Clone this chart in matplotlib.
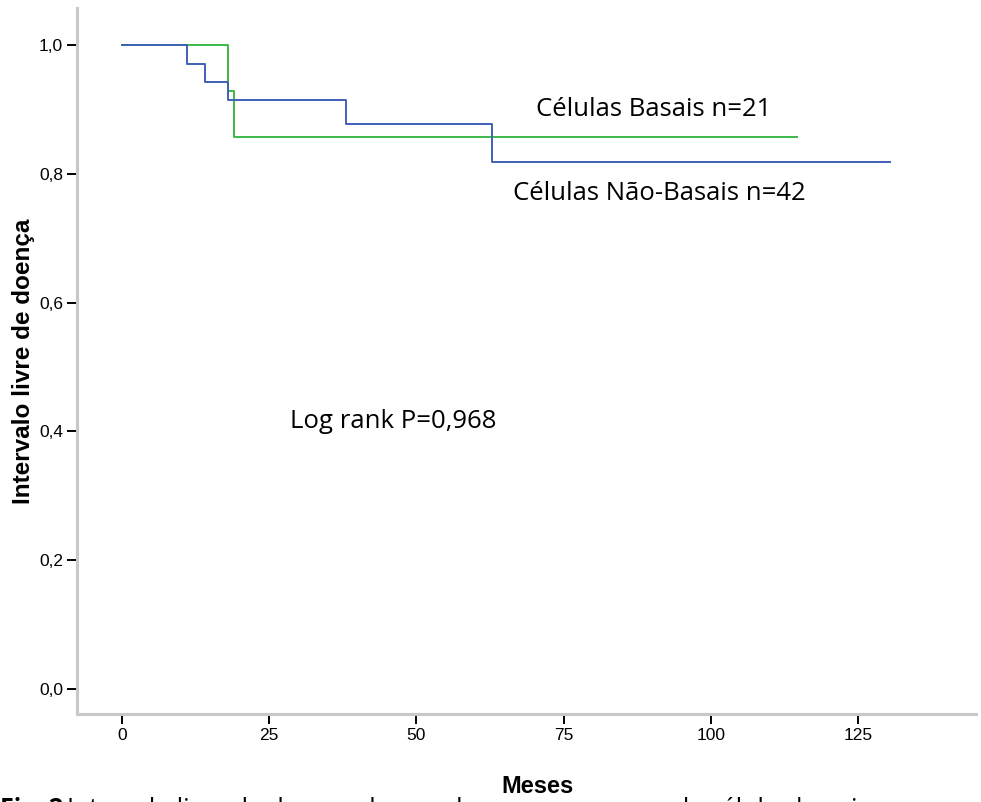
import matplotlib.pyplot as plt

# curvas de Kaplan-Meier (tempo em meses, sobrevivência)
basais_t = [0, 18.0, 19.0, 114.6]
basais_s = [1.0, 0.929, 0.857, 0.857]

nao_basais_t = [0, 11.0, 14.1, 18.0, 38.0, 62.9, 130.4]
nao_basais_s = [1.0, 0.971, 0.943, 0.914, 0.877, 0.818, 0.818]

x_ticks = [0, 25, 50, 75, 100, 125]
y_ticks = [0.0, 0.2, 0.4, 0.6, 0.8, 1.0]
y_labels = ["0,0", "0,2", "0,4", "0,6", "0,8", "1,0"]

fig = plt.figure(figsize=(9.81, 8.02), dpi=100)
ax = fig.add_axes([0.0785, 0.1097, 0.916, 0.880])

ax.step(basais_t, basais_s, where="post", color="#3cb94a", lw=1.4)
ax.step(nao_basais_t, nao_basais_s, where="post", color="#4060b8", lw=1.4)

ax.set_xlim(-7.6, 144.9)
ax.set_ylim(-0.039, 1.057)
ax.set_xticks(x_ticks)
ax.set_yticks(y_ticks)
ax.set_yticklabels(y_labels)
ax.tick_params(length=7, width=1.4, labelsize=12.5, color="black", pad=3)
for lab in ax.get_xticklabels() + ax.get_yticklabels():
    lab.set_family("Liberation Sans")

for s in ["top", "right"]:
    ax.spines[s].set_visible(False)
for s in ["left", "bottom"]:
    ax.spines[s].set_color("#c8c8c8")
    ax.spines[s].set_linewidth(2.2)

ax.set_ylabel("Intervalo livre de doença", fontsize=17.5, fontweight="bold",
              family="Liberation Sans", labelpad=3)
fig.text(0.548, 0.019, "Meses", fontsize=17, fontweight="bold",
         family="Liberation Sans", ha="center", va="center")

ax.text(90.3, 0.900, "Células Basais n=21", fontsize=18.5, family="Open Sans",
        ha="center", va="center")
ax.text(91.2, 0.770, "Células Não-Basais n=42", fontsize=18.5, family="Open Sans",
        ha="center", va="center")
ax.text(46.0, 0.416, "Log rank P=0,968", fontsize=18.5, family="Open Sans",
        ha="center", va="center")

# legenda da figura, cortada na margem inferior como no original
fig.text(0.0, 0.006, "Fig. 2", fontsize=18, fontweight="bold",
         family="Open Sans", ha="left", va="top")
fig.text(0.068, 0.006, "Intervalo livre de doença de acordo com a presença de células basais",
         fontsize=18, family="Open Sans", ha="left", va="top")

fig.savefig("out.png", dpi=100)
